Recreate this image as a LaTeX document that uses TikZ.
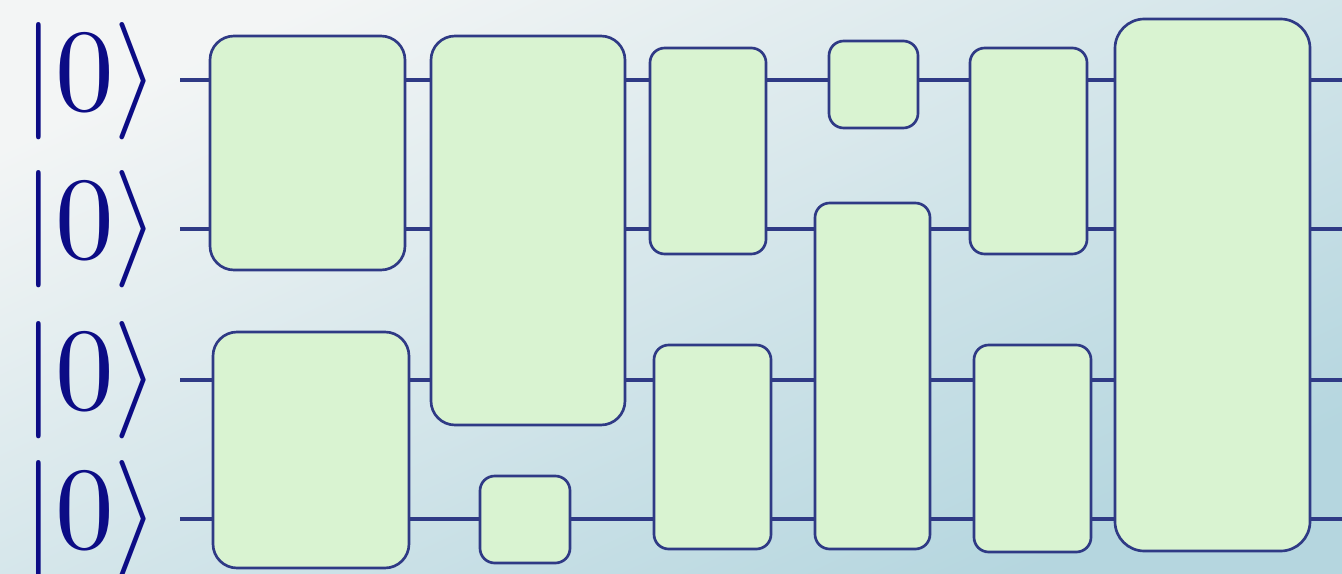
\documentclass[tikz,border=0pt]{standalone}
\usetikzlibrary{positioning}
\usepackage{xcolor}
\definecolor{wirecol}{HTML}{2F3A85}
\definecolor{ketcol}{HTML}{0C0C85}
\definecolor{gatefill}{HTML}{D9F3D1}
\definecolor{bgtop}{HTML}{F3F5F5}
\definecolor{bgmid}{HTML}{DCDEEA}
\definecolor{bgbot}{HTML}{B5D6DF}

\newcommand{\zeroket}{\scalebox{8.8}{$|0\rangle$}}

\tikzset{
  gate/.style={draw=wirecol, fill=gatefill, line width=2pt, rounded corners=18pt, inner sep=0pt},
  smallgate/.style={gate, rounded corners=11pt},
  wire/.style={draw=wirecol, line width=2.4pt},
  ket/.style={text=ketcol, inner sep=0pt}
}

\begin{document}
\begin{tikzpicture}[x=0.75pt, y=-0.75pt]
  % background
  \shade[top color=bgtop, middle color=bgmid, bottom color=bgbot, shading angle=25]
    (0,0) rectangle (1342,574);
  \useasboundingbox (0,0) rectangle (1342,574);

  % input states
  \node[ket] (k1) at (91,81) {\zeroket};
  \node[ket] (k2) at (91,229) {\zeroket};
  \node[ket] (k3) at (91,380) {\zeroket};
  \node[ket] (k4) at (91,519) {\zeroket};

  % wire ends
  \coordinate (w1s) at (180,80);   \coordinate (w1e) at (1342,80);
  \coordinate (w2s) at (180,229);  \coordinate (w2e) at (1342,229);
  \coordinate (w3s) at (180,380);  \coordinate (w3e) at (1342,380);
  \coordinate (w4s) at (180,519);  \coordinate (w4e) at (1342,519);

  \draw[wire] (w1s) -- (w1e);
  \draw[wire] (w2s) -- (w2e);
  \draw[wire] (w3s) -- (w3e);
  \draw[wire] (w4s) -- (w4e);

  % gates
  \node[gate, minimum width=146.25pt, minimum height=175.5pt] (g1) at (307.5,153) {};
  \node[gate, minimum width=147pt, minimum height=177pt] (g2) at (311,450) {};
  \node[gate, minimum width=145.5pt, minimum height=291.75pt] (g3) at (528,230.5) {};
  \node[smallgate, minimum width=67.5pt, minimum height=65.25pt] (g4) at (525,519.5) {};
  \node[smallgate, minimum width=87pt, minimum height=154.5pt] (g5) at (708,151) {};
  \node[smallgate, minimum width=87.75pt, minimum height=153pt] (g6) at (712.5,447) {};
  \node[smallgate, minimum width=66.75pt, minimum height=65.25pt] (g7) at (873.5,84.5) {};
  \node[smallgate, minimum width=86.25pt, minimum height=259.5pt] (g8) at (872.5,376) {};
  \node[smallgate, minimum width=87.75pt, minimum height=154.5pt] (g9) at (1028.5,151) {};
  \node[smallgate, minimum width=87.75pt, minimum height=155.25pt] (g10) at (1032.5,448.5) {};
  \node[gate, rounded corners=22pt, minimum width=146.25pt, minimum height=399pt] (g11) at (1212.5,285) {};
\end{tikzpicture}
\end{document}
